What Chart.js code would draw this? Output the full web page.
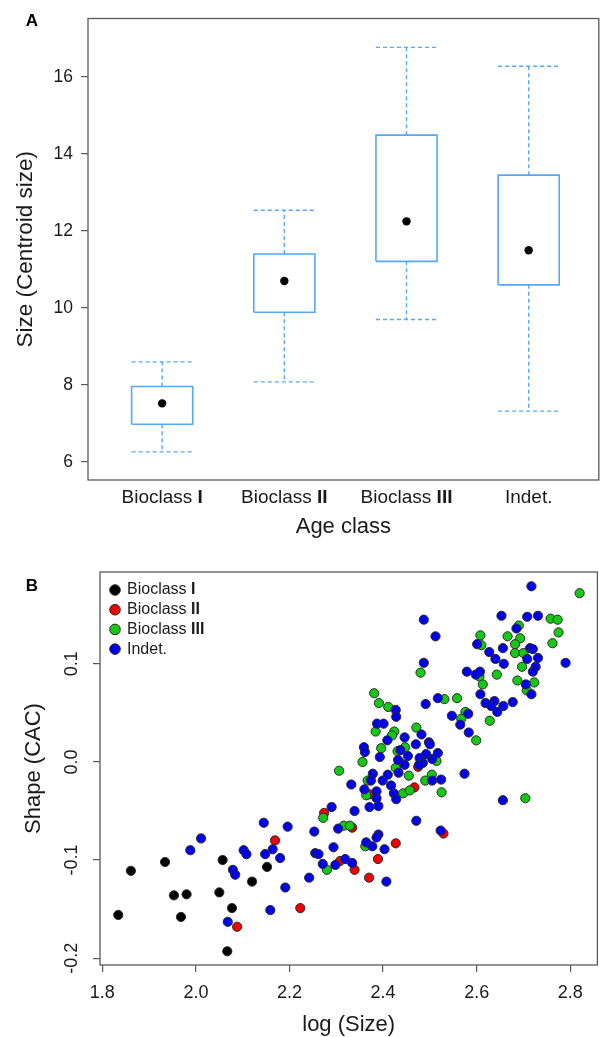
<!DOCTYPE html>
<html lang="en">

<head>
    <meta charset="UTF-8">
    <title>Size and shape by age class</title>
    <script src="https://cdn.jsdelivr.net/npm/chart.js"></script>
    <style>
        body {
            margin: 0;
            background: #ffffff;
        }

        #boxChart {
            position: absolute;
            left: 0;
            top: 0;
        }

        #scatterChart {
            position: absolute;
            left: 0;
            top: 545px;
        }
    </style>
</head>

<body>
    <canvas id="boxChart" width="603" height="545"></canvas>
    <canvas id="scatterChart" width="603" height="492"></canvas>

    <script>
        // ---- Panel A: centroid size per age class ----
        const ageClasses = ['Bioclass I', 'Bioclass II', 'Bioclass III', 'Indet.'];
        const whiskerLow = [6.26, 8.08, 9.70, 7.32];
        const boxLow = [6.98, 9.89, 11.21, 10.60];
        const medianSize = [7.52, 10.70, 12.25, 11.50];
        const boxHigh = [7.96, 11.40, 14.49, 13.45];
        const whiskerHigh = [8.60, 12.54, 16.77, 16.28];
        const sizeTicks = [6, 8, 10, 12, 14, 16];

        // ---- Panel B: shape vs log size ----
        const logSizeTicks = [1.8, 2.0, 2.2, 2.4, 2.6, 2.8];
        const shapeTicks = [-0.2, -0.1, 0.0, 0.1];

        const bioclassI = [[1.834, -0.156], [1.861, -0.111], [1.934, -0.102], [1.953, -0.136], [1.980, -0.135],
            [1.968, -0.158], [2.050, -0.133], [2.057, -0.100], [2.077, -0.149], [2.067, -0.193], [2.152, -0.107],
            [2.120, -0.122]];

        const bioclassII = [[2.274, -0.052], [2.334, -0.067], [2.169, -0.080], [2.088, -0.168], [2.223, -0.149],
            [2.308, -0.101], [2.339, -0.110], [2.370, -0.118], [2.389, -0.099], [2.427, -0.083], [2.529, -0.073],
            [2.475, -0.005], [2.437, -0.001], [2.371, -0.033], [2.467, -0.026]];

        const bioclassIII = [[2.820, 0.172], [2.758, 0.146], [2.773, 0.145], [2.775, 0.132], [2.690, 0.139],
            [2.608, 0.129], [2.666, 0.128], [2.693, 0.126], [2.762, 0.121], [2.610, 0.119], [2.682, 0.120],
            [2.682, 0.111], [2.700, 0.111], [2.697, 0.097], [2.606, 0.087], [2.643, 0.089], [2.613, 0.079],
            [2.687, 0.083], [2.723, 0.081], [2.707, 0.073], [2.480, 0.091], [2.381, 0.070], [2.531, 0.064],
            [2.558, 0.065], [2.391, 0.060], [2.411, 0.056], [2.576, 0.051], [2.567, 0.044], [2.628, 0.042],
            [2.599, 0.022], [2.704, -0.037], [2.471, 0.035], [2.384, 0.031], [2.424, 0.031], [2.419, 0.027],
            [2.396, 0.014], [2.447, 0.015], [2.431, 0.011], [2.514, 0.001], [2.356, 0.000], [2.306, -0.009],
            [2.427, -0.006], [2.367, -0.019], [2.455, -0.014], [2.504, -0.013], [2.490, -0.019], [2.525, -0.031],
            [2.364, -0.034], [2.443, -0.032], [2.457, -0.029], [2.272, -0.057], [2.316, -0.065], [2.329, -0.065],
            [2.362, -0.086], [2.280, -0.110]];

        const indet = [[2.717, 0.179], [2.653, 0.149], [2.708, 0.148], [2.731, 0.149], [2.685, 0.136],
            [2.601, 0.120], [2.656, 0.116], [2.714, 0.116], [2.720, 0.115], [2.627, 0.112], [2.731, 0.106],
            [2.640, 0.105], [2.708, 0.105], [2.658, 0.100], [2.790, 0.101], [2.726, 0.097], [2.720, 0.092],
            [2.579, 0.092], [2.598, 0.089], [2.607, 0.092], [2.705, 0.079], [2.717, 0.069], [2.608, 0.069],
            [2.487, 0.145], [2.512, 0.128], [2.487, 0.101], [2.517, 0.065], [2.619, 0.060], [2.638, 0.062],
            [2.631, 0.057], [2.657, 0.057], [2.677, 0.061], [2.644, 0.051], [2.582, 0.049], [2.547, 0.047],
            [2.565, 0.038], [2.583, 0.030], [2.574, -0.012], [2.656, -0.039], [2.427, 0.053], [2.428, 0.046],
            [2.491, 0.059], [2.387, 0.039], [2.401, 0.039], [2.409, 0.022], [2.446, 0.025], [2.482, 0.028],
            [2.470, 0.018], [2.498, 0.020], [2.500, 0.018], [2.359, 0.015], [2.361, 0.010], [2.437, 0.012],
            [2.453, 0.006], [2.393, 0.005], [2.517, 0.009], [2.492, 0.008], [2.478, 0.004], [2.505, 0.003],
            [2.485, -0.001], [2.477, -0.003], [2.432, 0.002], [2.446, -0.003], [2.433, -0.011], [2.378, -0.012],
            [2.410, -0.013], [2.332, -0.023], [2.374, -0.019], [2.399, -0.019], [2.505, -0.019], [2.524, -0.018],
            [2.360, -0.028], [2.386, -0.030], [2.386, -0.037], [2.423, -0.032], [2.417, -0.024], [2.428, -0.038],
            [2.371, -0.046], [2.390, -0.045], [2.290, -0.046], [2.339, -0.050], [2.471, -0.060], [2.304, -0.068],
            [2.253, -0.071], [2.196, -0.066], [2.523, -0.070], [2.390, -0.074], [2.386, -0.077], [2.145, -0.062],
            [2.011, -0.078], [1.988, -0.090], [2.102, -0.090], [2.108, -0.094], [2.148, -0.094], [2.164, -0.089],
            [2.180, -0.098], [2.079, -0.110], [2.084, -0.115], [2.068, -0.163], [2.159, -0.151], [2.191, -0.128],
            [2.242, -0.118], [2.255, -0.093], [2.262, -0.094], [2.294, -0.087], [2.271, -0.104], [2.298, -0.105],
            [2.319, -0.099], [2.334, -0.103], [2.364, -0.082], [2.377, -0.086], [2.403, -0.089], [2.407, -0.122]];

        const groups = [
            { label: 'Indet.', points: indet, color: '#0000ee' },
            { label: 'Bioclass III', points: bioclassIII, color: '#16c816' },
            { label: 'Bioclass II', points: bioclassII, color: '#ee0000' },
            { label: 'Bioclass I', points: bioclassI, color: '#000000' }
        ];
        const legendOrder = ['Bioclass I', 'Bioclass II', 'Bioclass III', 'Indet.'];

        const fontFamily = "'Liberation Sans', Arial, sans-serif";
        const textColor = '#1a1a1a';
        const frameColor = '#5a5a5a';
        const boxColor = '#55a8f5';

        Chart.defaults.font.family = fontFamily;
        Chart.defaults.color = textColor;

        // "Bioclass III" -> normal "Bioclass " + bold "III"
        function drawClassLabel(ctx, label, x, y, size, centered) {
            const m = label.match(/^(.*\s)(I+)$/);
            const head = m ? m[1] : label;
            const num = m ? m[2] : '';
            ctx.font = size + 'px ' + fontFamily;
            const w1 = ctx.measureText(head).width;
            ctx.font = 'bold ' + size + 'px ' + fontFamily;
            const w2 = ctx.measureText(num).width;
            const start = centered ? x - (w1 + w2) / 2 : x;
            ctx.textAlign = 'left';
            ctx.textBaseline = 'middle';
            ctx.fillStyle = textColor;
            ctx.font = size + 'px ' + fontFamily;
            ctx.fillText(head, start, y);
            ctx.font = 'bold ' + size + 'px ' + fontFamily;
            ctx.fillText(num, start + w1, y);
        }

        function drawFrame(chart) {
            const { ctx, chartArea: a } = chart;
            ctx.save();
            ctx.strokeStyle = frameColor;
            ctx.lineWidth = 1.3;
            ctx.strokeRect(a.left, a.top, a.right - a.left, a.bottom - a.top);
            ctx.restore();
        }

        function drawPanelLetter(ctx, letter, x, y) {
            ctx.save();
            ctx.font = 'bold 17px ' + fontFamily;
            ctx.fillStyle = '#000';
            ctx.textAlign = 'center';
            ctx.textBaseline = 'middle';
            ctx.fillText(letter, x, y);
            ctx.restore();
        }

        // box outlines and dashed whiskers as broken line paths
        const boxPath = [];
        const whiskerPath = [];
        ageClasses.forEach((c, i) => {
            const x = i + 1;
            const hw = 0.25;
            boxPath.push({ x: x - hw, y: boxLow[i] }, { x: x + hw, y: boxLow[i] }, { x: x + hw, y: boxHigh[i] },
                { x: x - hw, y: boxHigh[i] }, { x: x - hw, y: boxLow[i] }, { x: x, y: null });
            whiskerPath.push({ x: x, y: boxHigh[i] }, { x: x, y: whiskerHigh[i] }, { x: x, y: null },
                { x: x - hw, y: whiskerHigh[i] }, { x: x + hw, y: whiskerHigh[i] }, { x: x, y: null },
                { x: x, y: boxLow[i] }, { x: x, y: whiskerLow[i] }, { x: x, y: null },
                { x: x - hw, y: whiskerLow[i] }, { x: x + hw, y: whiskerLow[i] }, { x: x, y: null });
        });

        const boxDecor = {
            id: 'boxDecor',
            afterDraw(chart) {
                const { ctx, chartArea: a, scales } = chart;
                drawFrame(chart);
                ctx.save();
                ageClasses.forEach((c, i) => {
                    drawClassLabel(ctx, c, scales.x.getPixelForValue(i + 1), a.bottom + 18, 19, true);
                });
                ctx.restore();
                drawPanelLetter(ctx, 'A', 32, 21);
            }
        };

        new Chart(document.getElementById('boxChart'), {
            type: 'scatter',
            data: {
                datasets: [
                    {
                        data: medianSize.map((v, i) => ({ x: i + 1, y: v })),
                        pointRadius: 4.2,
                        pointBackgroundColor: '#000',
                        pointBorderWidth: 0
                    },
                    {
                        data: boxPath,
                        showLine: true,
                        spanGaps: false,
                        borderColor: boxColor,
                        borderWidth: 1.6,
                        pointRadius: 0
                    },
                    {
                        data: whiskerPath,
                        showLine: true,
                        spanGaps: false,
                        borderColor: boxColor,
                        borderWidth: 1.4,
                        borderDash: [4, 3],
                        pointRadius: 0
                    }
                ]
            },
            options: {
                responsive: false,
                animation: false,
                layout: { padding: { left: 0, right: 3, top: 10, bottom: 0 } },
                plugins: { legend: { display: false }, tooltip: { enabled: false } },
                scales: {
                    x: {
                        type: 'linear',
                        min: 0.393,
                        max: 4.574,
                        grid: { display: false },
                        border: { display: false },
                        ticks: { display: false },
                        title: {
                            display: true,
                            text: 'Age class',
                            font: { size: 22, lineHeight: 1 },
                            padding: { top: 0, bottom: 7.5 }
                        },
                        afterFit: s => { s.height = 65; }
                    },
                    y: {
                        type: 'linear',
                        min: 5.53,
                        max: 17.52,
                        afterBuildTicks: s => { s.ticks = sizeTicks.map(v => ({ value: v })); },
                        ticks: { font: { size: 17.5 }, padding: 8, color: textColor },
                        grid: { drawOnChartArea: false, tickLength: 7, color: frameColor, lineWidth: 1.2 },
                        border: { display: false },
                        title: {
                            display: true,
                            text: 'Size (Centroid size)',
                            font: { size: 22.5, lineHeight: 1 },
                            padding: { top: 15, bottom: 0 }
                        },
                        afterFit: s => { s.width = 88; }
                    }
                }
            },
            plugins: [boxDecor]
        });

        // ---- Panel B ----
        const scatterDecor = {
            id: 'scatterDecor',
            afterDraw(chart) {
                const { ctx, chartArea: a } = chart;
                drawFrame(chart);
                ctx.save();
                legendOrder.forEach((name, i) => {
                    const g = groups.find(d => d.label === name);
                    const y = a.top + 18 + i * 19.7;
                    ctx.beginPath();
                    ctx.arc(a.left + 15, y, 5.3, 0, Math.PI * 2);
                    ctx.fillStyle = g.color;
                    ctx.fill();
                    ctx.lineWidth = 1;
                    ctx.strokeStyle = '#2a2a2a';
                    ctx.stroke();
                    drawClassLabel(ctx, name, a.left + 27, y, 16, false);
                });
                ctx.restore();
                drawPanelLetter(ctx, 'B', 32, 41);
            }
        };

        new Chart(document.getElementById('scatterChart'), {
            type: 'scatter',
            data: {
                datasets: groups.map((g, i) => ({
                    label: g.label,
                    data: g.points.map(p => ({ x: p[0], y: p[1] })),
                    order: i,
                    pointRadius: 4.6,
                    pointBackgroundColor: g.color,
                    pointBorderColor: '#2a2a2a',
                    pointBorderWidth: 1
                }))
            },
            options: {
                responsive: false,
                animation: false,
                layout: { padding: { left: 0, right: 5, top: 27, bottom: 0 } },
                plugins: { legend: { display: false }, tooltip: { enabled: false } },
                scales: {
                    x: {
                        type: 'linear',
                        min: 1.795,
                        max: 2.858,
                        afterBuildTicks: s => { s.ticks = logSizeTicks.map(v => ({ value: v })); },
                        ticks: { font: { size: 18 }, padding: 10, color: textColor, callback: v => v.toFixed(1) },
                        grid: { drawOnChartArea: false, tickLength: 7, color: frameColor, lineWidth: 1.2 },
                        border: { display: false },
                        title: {
                            display: true,
                            text: 'log (Size)',
                            font: { size: 22, lineHeight: 1 },
                            padding: { top: 0, bottom: 1 }
                        },
                        afterFit: s => { s.height = 72; }
                    },
                    y: {
                        type: 'linear',
                        min: -0.207,
                        max: 0.1936,
                        afterBuildTicks: s => { s.ticks = shapeTicks.map(v => ({ value: v })); },
                        ticks: {
                            font: { size: 18 },
                            padding: 5,
                            color: textColor,
                            minRotation: 90,
                            maxRotation: 90,
                            crossAlign: 'center',
                            callback: v => v.toFixed(1)
                        },
                        grid: { drawOnChartArea: false, tickLength: 7, color: frameColor, lineWidth: 1.2 },
                        border: { display: false },
                        title: {
                            display: true,
                            text: 'Shape (CAC)',
                            font: { size: 22, lineHeight: 1 },
                            padding: { top: 22.5, bottom: 0 }
                        },
                        afterFit: s => { s.width = 100; }
                    }
                }
            },
            plugins: [scatterDecor]
        });
    </script>
</body>

</html>
